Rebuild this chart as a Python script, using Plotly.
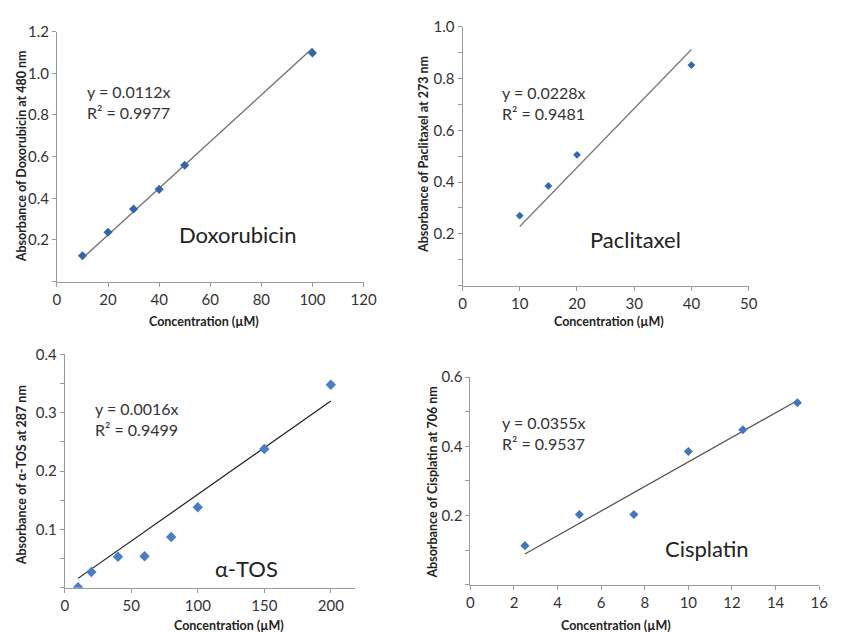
import plotly.graph_objects as go

W, H = 841, 632
FONT = "Lato"

# ---- Calibration data -------------------------------------------------------
dox_conc = [10, 20, 30, 40, 50, 100]
dox_abs = [0.124, 0.237, 0.349, 0.443, 0.559, 1.098]
dox_slope = 0.0112
dox_r2 = 0.9977

pac_conc = [10, 15, 20, 40]
pac_abs = [0.27, 0.385, 0.505, 0.852]
pac_slope = 0.0228
pac_r2 = 0.9481

tos_conc = [10, 20, 40, 60, 80, 100, 150, 200]
tos_abs = [0.001, 0.027, 0.053, 0.054, 0.087, 0.138, 0.238, 0.348]
tos_slope = 0.0016
tos_r2 = 0.9499

cis_conc = [2.5, 5, 7.5, 10, 12.5, 15]
cis_abs = [0.113, 0.203, 0.203, 0.385, 0.448, 0.526]
cis_slope = 0.0355
cis_r2 = 0.9537

# ---- Tick values and labels -------------------------------------------------
dox_xticks = [0, 20, 40, 60, 80, 100, 120]
dox_yticks = [0, 0.2, 0.4, 0.6, 0.8, 1.0, 1.2]
dox_ylabels = ["", "0.2", "0.4", "0.6", "0.8", "1.0", "1.2"]

pac_xticks = [0, 10, 20, 30, 40, 50]
pac_yticks = [0, 0.1, 0.2, 0.3, 0.4, 0.5, 0.6, 0.7, 0.8, 0.9, 1.0]
pac_ylabels = ["", "", "0.2", "", "0.4", "", "0.6", "", "0.8", "", "1.0"]

tos_xticks = [0, 50, 100, 150, 200]
tos_yticks = [0, 0.05, 0.1, 0.15, 0.2, 0.25, 0.3, 0.35, 0.4]
tos_ylabels = ["", "", "0.1", "", "0.2", "", "0.3", "", "0.4"]

cis_xticks = [0, 2, 4, 6, 8, 10, 12, 14, 16]
cis_yticks = [0, 0.1, 0.2, 0.3, 0.4, 0.5, 0.6]
cis_ylabels = ["", "", "0.2", "", "0.4", "", "0.6"]

# ---- Panel geometry (pixels) and styling ------------------------------------
panels = [
    dict(name="Doxorubicin", x=dox_conc, y=dox_abs, slope=dox_slope, r2=dox_r2,
         xt=dox_xticks, yt=dox_yticks, yl=dox_ylabels,
         xr=[0, 120], yr=[0, 1.2], px=(54, 367), py=(22, 276),
         ytitle="Absorbance of Doxorubicin at 480 nm",
         mcolor="#2e67ae", msize=7, lcolor="#6e6e6e", lwidth=1.3,
         eq=(83, 93), label=(238, 228), yt_pos=(18, 149), xt_pos=(204, 316)),
    dict(name="Paclitaxel", x=pac_conc, y=pac_abs, slope=pac_slope, r2=pac_r2,
         xt=pac_xticks, yt=pac_yticks, yl=pac_ylabels,
         xr=[0, 50], yr=[0, 1.0], px=(468, 760), py=(17, 280),
         ytitle="Absorbance of Paclitaxel at 273 nm",
         mcolor="#2e6bb3", msize=6, lcolor="#7a7a7a", lwidth=1.3,
         eq=(506, 95), label=(645, 233), yt_pos=(428, 147), xt_pos=(617, 316)),
    dict(name="\u03b1-TOS", x=tos_conc, y=tos_abs, slope=tos_slope, r2=tos_r2,
         xt=tos_xticks, yt=tos_yticks, yl=tos_ylabels,
         xr=[0, 218], yr=[0, 0.4], px=(62, 358), py=(350, 587),
         ytitle="Absorbance of \u03b1-TOS at 287 nm",
         mcolor="#4a7ec4", msize=8, lcolor="#1e1e1e", lwidth=1.2,
         eq=(91, 416), label=(248, 567), yt_pos=(18, 473), xt_pos=(230, 625)),
    dict(name="Cisplatin", x=cis_conc, y=cis_abs, slope=cis_slope, r2=cis_r2,
         xt=cis_xticks, yt=cis_yticks, yl=cis_ylabels,
         xr=[0, 16], yr=[0, 0.6], px=(476, 832), py=(373, 584),
         ytitle="Absorbance of Cisplatin at 706 nm",
         mcolor="#3f77bf", msize=7, lcolor="#555555", lwidth=1.3,
         eq=(506, 430), label=(717, 547), yt_pos=(437, 480), xt_pos=(625, 625)),
]


def fx(px):
    return px / W


def fy(py):
    return 1 - py / H


fig = go.Figure()
annotations = []
layout = {}

for i, p in enumerate(panels, start=1):
    xa = "x" if i == 1 else f"x{i}"
    ya = "y" if i == 1 else f"y{i}"
    xkey = "xaxis" if i == 1 else f"xaxis{i}"
    ykey = "yaxis" if i == 1 else f"yaxis{i}"

    # linear trendline through the origin, from the stated equation
    x_fit = [p["x"][0], p["x"][-1]]
    y_fit = [p["slope"] * v for v in x_fit]
    fig.add_trace(go.Scatter(x=x_fit, y=y_fit, mode="lines", xaxis=xa, yaxis=ya,
                             line=dict(color=p["lcolor"], width=p["lwidth"]),
                             showlegend=False, hoverinfo="skip"))
    fig.add_trace(go.Scatter(x=p["x"], y=p["y"], mode="markers", xaxis=xa, yaxis=ya,
                             marker=dict(symbol="diamond", size=p["msize"],
                                         color=p["mcolor"], line=dict(width=0)),
                             showlegend=False, name=p["name"]))

    common = dict(showline=True, linecolor="#9a9a9a", linewidth=1,
                  showgrid=False, zeroline=False, ticks="outside", ticklen=4,
                  tickcolor="#9a9a9a", tickwidth=1,
                  tickfont=dict(family=FONT, size=15, color="#333333"),
                  tickmode="array", fixedrange=True)
    layout[xkey] = dict(common, domain=[fx(p["px"][0]), fx(p["px"][1])],
                        range=p["xr"], tickvals=p["xt"],
                        ticktext=[str(v) for v in p["xt"]], anchor=ya)
    layout[ykey] = dict(common, domain=[fy(p["py"][1]), fy(p["py"][0])],
                        range=p["yr"], tickvals=p["yt"], ticktext=p["yl"],
                        anchor=xa)

    annotations.append(dict(
        x=fx(p["eq"][0]), y=fy(p["eq"][1]), xref="paper", yref="paper",
        xanchor="left", yanchor="middle", align="left", showarrow=False,
        text=f"y = {p['slope']}x<br>R\u00b2 = {p['r2']}",
        font=dict(family=FONT, size=16, color="#333333")))
    annotations.append(dict(
        x=fx(p["label"][0]), y=fy(p["label"][1]), xref="paper", yref="paper",
        xanchor="center", yanchor="middle", showarrow=False, text=p["name"],
        font=dict(family=FONT, size=22, color="#222222")))
    annotations.append(dict(
        x=fx(p["yt_pos"][0]), y=fy(p["yt_pos"][1]), xref="paper", yref="paper",
        xanchor="center", yanchor="middle", showarrow=False, textangle=-90,
        text=f"<b>{p['ytitle']}</b>",
        font=dict(family=FONT, size=12.5, color="#222222")))
    annotations.append(dict(
        x=fx(p["xt_pos"][0]), y=fy(p["xt_pos"][1]), xref="paper", yref="paper",
        xanchor="center", yanchor="middle", showarrow=False,
        text="<b>Concentration (\u00b5M)</b>",
        font=dict(family=FONT, size=12.5, color="#222222")))

fig.update_layout(
    width=W, height=H, margin=dict(l=0, r=0, t=0, b=0),
    paper_bgcolor="white", plot_bgcolor="white",
    annotations=annotations, **layout)

fig.write_html("out.html")
